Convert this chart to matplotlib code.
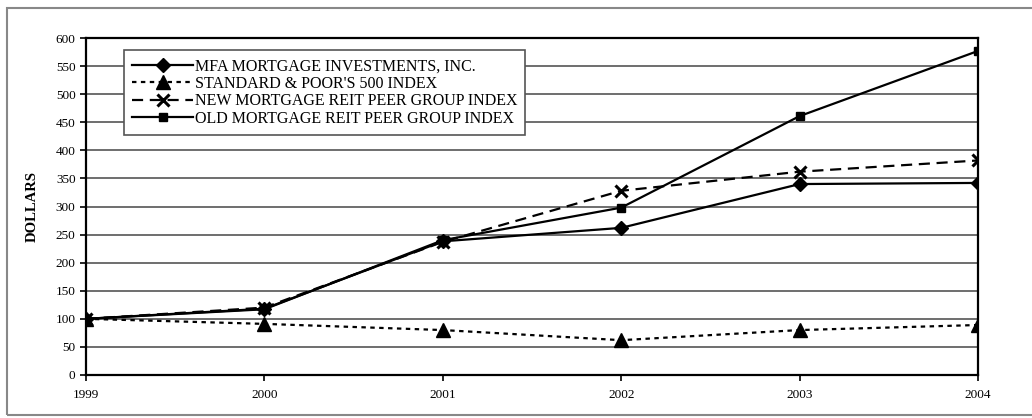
import matplotlib.pyplot as plt
from matplotlib.patches import Rectangle

plt.rcParams['font.family'] = ['Liberation Serif', 'DejaVu Serif']

years = [1999, 2000, 2001, 2002, 2003, 2004]
mfa = [100, 118, 238, 262, 340, 342]
sp500 = [100, 91, 80, 62, 80, 89]
new_peer = [100, 120, 237, 328, 362, 382]
old_peer = [100, 117, 240, 298, 461, 577]

labels = ['MFA MORTGAGE INVESTMENTS, INC.',
          "STANDARD & POOR'S 500 INDEX",
          'NEW MORTGAGE REIT PEER GROUP INDEX',
          'OLD MORTGAGE REIT PEER GROUP INDEX']

fig = plt.figure(figsize=(10.32, 4.18), dpi=100)
fig.patches.append(Rectangle((0.007, 0.007), 1.2, 0.973, transform=fig.transFigure,
                             fill=False, edgecolor='#888888', linewidth=1.5))
ax = fig.add_axes([0.0833, 0.1029, 0.8644, 0.8061])

ax.plot(years, mfa, color='black', lw=1.6, marker='D', ms=7, label=labels[0], zorder=4)
ax.plot(years, sp500, color='black', lw=1.6, ls=(0, (2, 2)), marker='^', ms=10,
        label=labels[1], zorder=4)
ax.plot(years, new_peer, color='black', lw=1.6, ls=(0, (5, 3)), marker='x', ms=9, mew=2.2,
        label=labels[2], zorder=4)
ax.plot(years, old_peer, color='black', lw=1.6, marker='s', ms=5.5, label=labels[3], zorder=4)

ax.set_xlim(1999, 2004)
ax.set_ylim(0, 600)
ax.set_yticks(range(0, 601, 50))
ax.set_xticks(years)
ax.grid(axis='y', color='#555555', lw=1.2, zorder=0)
for s in ax.spines.values():
    s.set_linewidth(1.6)
ax.tick_params(direction='out', length=4, width=1.2, labelsize=9.5, colors='black')
ax.tick_params(axis='x', pad=6)
ax.set_ylabel('DOLLARS', fontsize=10.5, fontweight='bold', labelpad=12)

leg = ax.legend(loc='upper left', bbox_to_anchor=(0.043, 0.964), fontsize=11.5, frameon=True,
                fancybox=False, edgecolor='#555555', framealpha=1, handlelength=3.8,
                handletextpad=0.1, labelspacing=0.1, borderpad=0.5, borderaxespad=0)
leg.get_frame().set_linewidth(1.2)

fig.savefig('out.png', dpi=100)
